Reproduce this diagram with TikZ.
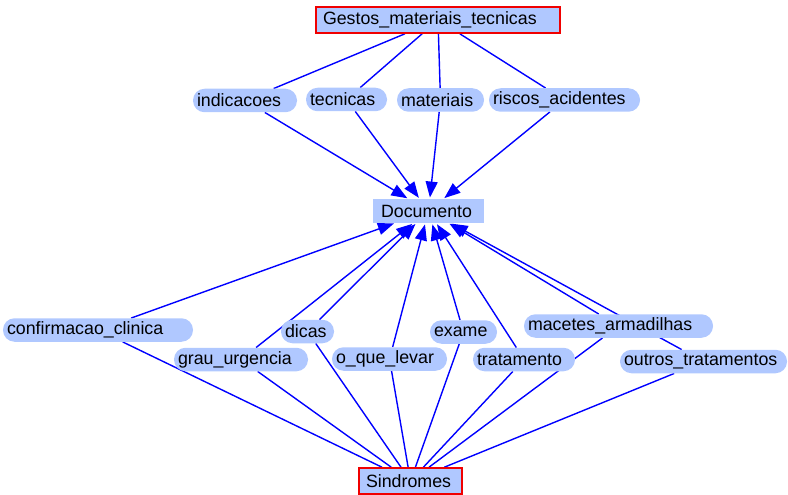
\documentclass[tikz,border=0pt]{standalone}
\usepackage{fontspec}
\setmainfont{Liberation Sans}
\usetikzlibrary{arrows.meta,backgrounds}
\definecolor{nodefill}{RGB}{176,200,255}
\definecolor{edgeblue}{RGB}{0,0,255}
\definecolor{borderred}{RGB}{240,0,0}
\begin{document}
\begin{tikzpicture}[x=1pt,y=-1pt,
  base/.style={fill=nodefill, inner ysep=0pt, align=left, anchor=center,
    font=\fontsize{17.8}{20}\selectfont},
  pill/.style={base, draw=none, rounded corners=11.5pt, minimum height=23.5pt, inner xsep=4pt},
  doc/.style={base, draw=none, minimum height=23.5pt, inner xsep=8pt},
  root/.style={base, draw=borderred, line width=1.6pt, minimum height=26pt, inner xsep=7pt},
  link/.style={draw=edgeblue, line width=1.4pt},
  arr/.style={link, shorten >=1.5pt, -{Triangle[length=16pt,width=12pt]}}
]
\useasboundingbox (0,0) rectangle (788,495);
% top
\node[root, text width=230pt] (G) at (438,20) {Gestos\_materiais\_tecnicas};
\node[pill, text width=96pt] (ind) at (245,100.5) {indicacoes};
\node[pill, text width=73pt] (tec) at (346.5,99.5) {tecnicas};
\node[pill, text width=79pt] (mat) at (440.5,100) {materiais};
\node[pill, text width=143pt] (ris) at (564.5,100) {riscos\_acidentes};
% center
\node[doc, text width=95pt] (D) at (428.5,211) {Documento};
% bottom
\node[pill, text width=182pt] (conf) at (98,330) {confirmacao\_clinica};
\node[pill, text width=45pt] (dic) at (307.5,331.5) {dicas};
\node[pill, text width=126pt] (gra) at (241,359.5) {grau\_urgencia};
\node[pill, text width=107pt] (oqu) at (389.5,359) {o\_que\_levar};
\node[pill, text width=59pt] (exa) at (463.5,332) {exame};
\node[pill, text width=181pt] (mac) at (618.5,326) {macetes\_armadilhas};
\node[pill, text width=94pt] (tra) at (524,359.5) {tratamento};
\node[pill, text width=159pt] (out) at (703.5,361.5) {outros\_tratamentos};
\node[root, text width=89pt] (S) at (410.5,481) {Sindromes};
\begin{scope}[on background layer]
  \foreach \n in {ind,tec,mat,ris} {
    \draw[link] (G) -- (\n);
    \draw[arr] (\n) -- (D);
  }
  \foreach \n in {conf,dic,gra,oqu,exa,mac,tra,out} {
    \draw[link] (S) -- (\n);
    \draw[arr] (\n) -- (D);
  }
\end{scope}
\end{tikzpicture}
\end{document}
